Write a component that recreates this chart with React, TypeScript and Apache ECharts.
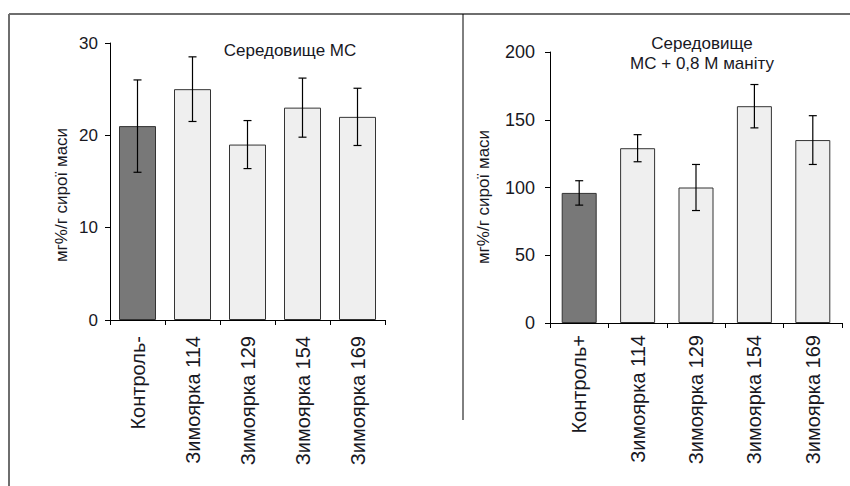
import React, { useEffect, useRef } from "react";
import * as echarts from "echarts";

const categoriesLeft = ["Контроль-", "Зимоярка 114", "Зимоярка 129", "Зимоярка 154", "Зимоярка 169"];
const valuesLeft = [21, 25, 19, 23, 22];
const errorsLeft = [5, 3.5, 2.6, 3.2, 3.1];

const categoriesRight = ["Контроль+", "Зимоярка 114", "Зимоярка 129", "Зимоярка 154", "Зимоярка 169"];
const valuesRight = [96, 129, 100, 160, 135];
const errorsRight = [9, 10, 17, 16, 18];

const titleLeft = "Середовище МС";
const titleRight = "Середовище\nМС + 0,8 М маніту";
const yName = "мг%/г сирої маси";

const FONT = "'Liberation Sans', Arial, sans-serif";
const TEXT = "#18181f";

function barData(values: number[]) {
  return values.map((v, i) => ({
    value: v,
    itemStyle: {
      color: i === 0 ? "#787878" : "#efefef",
      borderColor: "#333",
      borderWidth: 1,
    },
  }));
}

function errData(values: number[], errs: number[]) {
  return values.map((v, i) => [i, v - errs[i], v + errs[i]]);
}

function renderErr(params: any, api: any) {
  const i = api.value(0);
  const lo = api.coord([i, api.value(1)]);
  const hi = api.coord([i, api.value(2)]);
  const cap = 4;
  const style = { stroke: "#000", lineWidth: 1.2 };
  return {
    type: "group",
    children: [
      { type: "line", shape: { x1: hi[0], y1: hi[1], x2: lo[0], y2: lo[1] }, style },
      { type: "line", shape: { x1: hi[0] - cap, y1: hi[1], x2: hi[0] + cap, y2: hi[1] }, style },
      { type: "line", shape: { x1: lo[0] - cap, y1: lo[1], x2: lo[0] + cap, y2: lo[1] }, style },
    ],
  };
}

export default function App() {
  const ref = useRef<HTMLDivElement>(null);
  useEffect(() => {
    if (!ref.current) return;
    const chart = echarts.init(ref.current, null, { renderer: "svg" });
    const axisLine = { show: true, lineStyle: { color: "#000", width: 1 } };
    const axisTick = { show: true, length: 5, lineStyle: { color: "#000", width: 1 } };
    chart.setOption({
      animation: false,
      backgroundColor: "#fff",
      textStyle: { fontFamily: FONT },
      title: [
        {
          text: titleLeft,
          left: 285,
          top: 37,
          textAlign: "center",
          textStyle: { fontFamily: FONT, fontSize: 17, fontWeight: "normal", color: TEXT },
        },
        {
          text: titleRight,
          left: 697,
          top: 28,
          textAlign: "center",
          textStyle: { fontFamily: FONT, fontSize: 17, fontWeight: "normal", color: TEXT, lineHeight: 20 },
        },
      ],
      grid: [
        { left: 110, top: 43, width: 275, height: 277 },
        { left: 550, top: 52, width: 292, height: 271 },
      ],
      xAxis: [
        {
          type: "category",
          gridIndex: 0,
          data: categoriesLeft,
          axisLine,
          axisTick,
          axisLabel: { rotate: 90, margin: 16, fontSize: 20, color: TEXT, fontFamily: FONT },
        },
        {
          type: "category",
          gridIndex: 1,
          data: categoriesRight,
          axisLine,
          axisTick,
          axisLabel: { rotate: 90, margin: 12, fontSize: 20, color: TEXT, fontFamily: FONT },
        },
      ],
      yAxis: [
        {
          type: "value",
          gridIndex: 0,
          min: 0,
          max: 30,
          interval: 10,
          axisLine,
          axisTick,
          splitLine: { show: false },
          axisLabel: { margin: 12, fontSize: 17, color: TEXT, fontFamily: FONT },
        },
        {
          type: "value",
          gridIndex: 1,
          min: 0,
          max: 200,
          interval: 50,
          axisLine,
          axisTick,
          splitLine: { show: false },
          axisLabel: { margin: 15, fontSize: 18, color: TEXT, fontFamily: FONT },
        },
      ],
      series: [
        {
          type: "bar",
          xAxisIndex: 0,
          yAxisIndex: 0,
          barWidth: 37,
          data: barData(valuesLeft),
        },
        {
          type: "custom",
          xAxisIndex: 0,
          yAxisIndex: 0,
          renderItem: renderErr,
          encode: { x: 0, y: [1, 2] },
          data: errData(valuesLeft, errorsLeft),
          z: 5,
        },
        {
          type: "bar",
          xAxisIndex: 1,
          yAxisIndex: 1,
          barWidth: 35,
          data: barData(valuesRight),
        },
        {
          type: "custom",
          xAxisIndex: 1,
          yAxisIndex: 1,
          renderItem: renderErr,
          encode: { x: 0, y: [1, 2] },
          data: errData(valuesRight, errorsRight),
          z: 5,
        },
      ],
      graphic: [
        { type: "line", shape: { x1: 9, y1: 14, x2: 850, y2: 14 }, style: { stroke: "#6e6e6e", lineWidth: 2 } },
        { type: "line", shape: { x1: 9, y1: 14, x2: 9, y2: 486 }, style: { stroke: "#6e6e6e", lineWidth: 2 } },
        { type: "line", shape: { x1: 463, y1: 14, x2: 463, y2: 420 }, style: { stroke: "#000", lineWidth: 1 } },
        {
          type: "text",
          x: 61,
          y: 195,
          rotation: Math.PI / 2,
          style: { text: yName, fontSize: 17, fontFamily: FONT, fill: TEXT, align: "center", verticalAlign: "middle" },
        },
        {
          type: "text",
          x: 483,
          y: 197,
          rotation: Math.PI / 2,
          style: { text: yName, fontSize: 17, fontFamily: FONT, fill: TEXT, align: "center", verticalAlign: "middle" },
        },
      ],
    });
    return () => chart.dispose();
  }, []);
  return <div ref={ref} style={{ position: "fixed", left: 0, top: 0, width: 850, height: 486 }} />;
}
